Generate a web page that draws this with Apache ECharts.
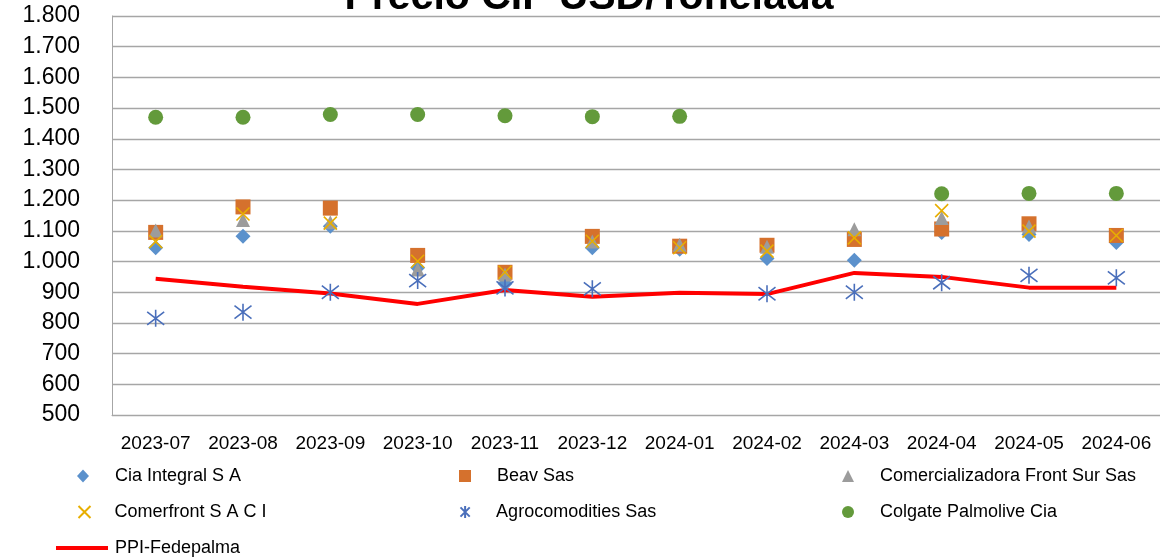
<!DOCTYPE html>
<html>
<head>
<meta charset="utf-8">
<script src="https://cdn.jsdelivr.net/npm/echarts@6/dist/echarts.min.js"></script>
<style>
  html, body { margin: 0; padding: 0; background: #fff; }
  #drew { width: 1160px; height: 559px; }
</style>
</head>
<body>
<div id="drew"></div>
<script>
   var months = ['2023-07', '2023-08', '2023-09', '2023-10', '2023-11', '2023-12',
                 '2024-01', '2024-02', '2024-03', '2024-04', '2024-05', '2024-06'];

   var ciaIntegral = [1045, 1082, 1115, 980, 928, 1045, 1040, 1010, 1004, 1095, 1088, 1062];
   var beavSas = [1095, 1178, 1174, 1020, 965, 1082, 1050, 1053, 1072, 1106, 1123, 1085];
   var frontSur = [1101, 1135, 1128, 974, 958, 1065, 1055, 1048, 1105, 1142, 1114, null];
   var comerfront = [1065, 1155, 1125, 1001, 965, 1066, 1045, 1034, 1077, 1166, 1099, 1085];
   var agrocomodities = [815, 835, 900, 938, 914, 911, null, 895, 900, 931, 955, 947];
   var colgate = [1470, 1470, 1479, 1479, 1475, 1472, 1473, null, null, 1221, 1222, 1222];
   var ppiFedepalma = [944, 918, 896, 862, 907, 885, 898, 894, 963, 950, 915, 915];

   var xMark = 'path://M0 0L10 10M10 0L0 10';
   var starMark = 'path://M0 0L10 10M10 0L0 10M5 -1.5L5 11.5';

   var myChart = echarts.init(document.getElementById('drew'));

   function dotted(v) {
       if (v >= 1000) {
           return Math.floor(v / 1000) + '.' + String(v % 1000).padStart(3, '0');
       }
       return String(v);
   }

   // one legend per entry, so each sits where the original puts it
   function legendAt(name, icon, size, left, top, gap) {
       return {
           data: [{ name: name, icon: icon }],
           left: left,
           top: top,
           padding: 0,
           itemWidth: size[0],
           itemHeight: size[1],
           selectedMode: false,
           formatter: function (n) { return '{sp|}' + n; },
           textStyle: {
               fontFamily: 'Liberation Sans', fontSize: 18, color: '#000',
               rich: { sp: { width: gap } }
           }
       };
   }

   var option = {
       backgroundColor: '#fff',
       animation: false,
       title: {
           text: 'Precio CIF USD/Tonelada',
           left: 584,
           textAlign: 'center',
           top: -28,
           textStyle: { fontFamily: 'Liberation Sans', fontWeight: 'bold', fontSize: 41, color: '#000' }
       },
       legend: [
           legendAt('Cia Integral S A', 'diamond', [12, 13], 77, 467, 21),
           legendAt('Beav Sas', 'rect', [12, 12], 459, 467, 21),
           legendAt('Comercializadora Front Sur Sas', 'triangle', [12, 12], 842, 467, 21),
           legendAt('Comerfront S A C I', xMark, [12, 12], 76, 503, 19),
           legendAt('Agrocomodities Sas', starMark, [12, 12], 458, 503, 20),
           legendAt('Colgate Palmolive Cia', 'circle', [12, 12], 842, 503, 21),
           legendAt('PPI-Fedepalma', 'rect', [52, 4], 56, 539, 2)
       ],
       grid: { left: 112, top: 16, width: 1056, height: 399 },
       xAxis: {
           type: 'category',
           data: months,
           boundaryGap: true,
           axisTick: { show: false },
           axisLine: { lineStyle: { color: '#a6a6a6', width: 1 } },
           axisLabel: { interval: 0, margin: 19, fontFamily: 'Liberation Sans', fontSize: 19, color: '#000' }
       },
       yAxis: {
           type: 'value',
           min: 500,
           max: 1800,
           interval: 100,
           axisLine: { show: true, lineStyle: { color: '#a6a6a6', width: 1 } },
           axisTick: { show: false },
           splitLine: { lineStyle: { color: '#a6a6a6', width: 1.3 } },
           axisLabel: { margin: 32, fontFamily: 'Liberation Sans', fontSize: 23, color: '#000', formatter: dotted }
       },
       series: [{
           name: 'PPI-Fedepalma',
           type: 'line',
           data: ppiFedepalma,
           symbol: 'none',
           z: 1,
           lineStyle: { color: '#ff0000', width: 4 },
           itemStyle: { color: '#ff0000' }
       }, {
           name: 'Cia Integral S A',
           type: 'scatter',
           data: ciaIntegral,
           symbol: 'diamond',
           symbolSize: 15,
           z: 2,
           itemStyle: { color: '#5b91cc', opacity: 1 }
       }, {
           name: 'Beav Sas',
           type: 'scatter',
           data: beavSas,
           symbol: 'rect',
           symbolSize: 15,
           z: 3,
           itemStyle: { color: '#d5712d', opacity: 1 }
       }, {
           name: 'Comercializadora Front Sur Sas',
           type: 'scatter',
           data: frontSur,
           symbol: 'triangle',
           symbolSize: 14,
           z: 4,
           itemStyle: { color: '#9c9c9c', opacity: 1 }
       }, {
           name: 'Comerfront S A C I',
           type: 'scatter',
           data: comerfront,
           symbol: xMark,
           symbolSize: 13,
           z: 5,
           itemStyle: { color: 'none', borderColor: '#e8ae00', borderWidth: 1.6, opacity: 1 }
       }, {
           name: 'Agrocomodities Sas',
           type: 'scatter',
           data: agrocomodities,
           symbol: starMark,
           symbolSize: 17,
           z: 6,
           itemStyle: { color: 'none', borderColor: '#4a6fbb', borderWidth: 1.6, opacity: 1 }
       }, {
           name: 'Colgate Palmolive Cia',
           type: 'scatter',
           data: colgate,
           symbol: 'circle',
           symbolSize: 15,
           z: 7,
           itemStyle: { color: '#639a3b', opacity: 1 }
       }]
   };
   myChart.setOption(option);
</script>
</body>
</html>
